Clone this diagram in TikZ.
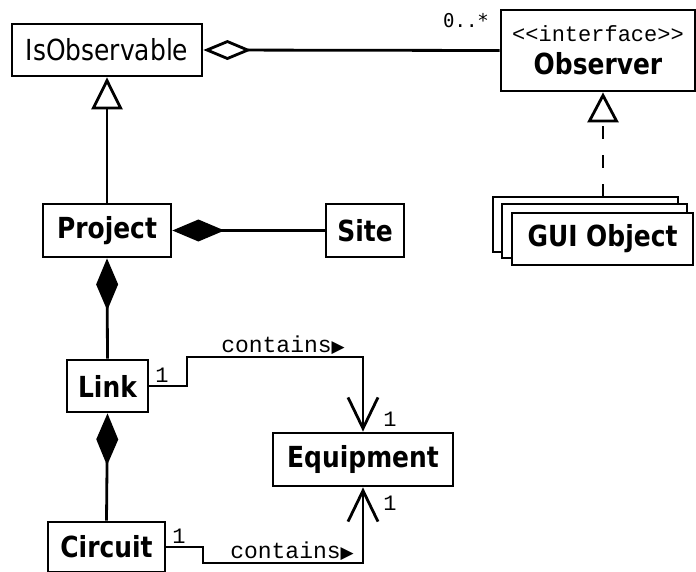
\documentclass[tikz,border=0pt]{standalone}
\usepackage{fontspec}
\setmainfont[FakeStretch=0.86]{DejaVu Sans}
\newfontfamily\monof{Liberation Mono}
\newfontfamily\smonof{DejaVu Sans Mono}
\newfontfamily\symf{DejaVu Sans}
\usetikzlibrary{arrows.meta,calc}
\tikzset{
  cls/.style={draw, line width=2.8pt, fill=white, inner sep=0pt,
    font=\fontsize{29}{32}\selectfont\bfseries},
  conn/.style={line width=2.8pt},
  lbl/.style={font=\monof\fontsize{23}{25}\selectfont, inner sep=0pt},
  mult/.style={font=\monof\fontsize{22}{24}\selectfont, inner sep=0pt},
  aggr/.style={conn, -{Diamond[open, length=48pt, width=20pt]}},
  comp/.style={conn, -{Diamond[length=52pt, width=22pt]}},
  inh/.style={conn, -{Triangle[open, length=32pt, width=31pt]}},
  real/.style={conn, dash pattern=on 13pt off 16pt, -{Triangle[open, length=30pt, width=31pt]}},
  nav/.style={conn, -{Straight Barb[length=31pt, width=30pt]}},
}
\newcommand{\tri}{{\symf\fontsize{17}{17}\selectfont ▶}}
\begin{document}
\begin{tikzpicture}[x=1pt, y=-1pt]
\useasboundingbox (0,0) rectangle (696,572);

% classes
\node[cls, font=\fontsize{29}{32}\selectfont\mdseries, minimum width=190pt, minimum height=52pt] (obsable) at (107,50) {IsObservable};
\node[cls, minimum width=194pt, minimum height=81pt, align=center] (observer) at (598,50.5)
  {{\mdseries\monof\fontsize{22}{24}\selectfont <{}<interface>{}>}\\[1pt]Observer};
\node[cls, minimum width=128pt, minimum height=53pt] (project) at (107,230.5) {Project};
\node[cls, minimum width=78pt, minimum height=53pt] (site) at (365,230.5) {Site};
\node[cls, minimum width=81pt, minimum height=52pt] (link) at (107.5,386) {Link};
\node[cls, minimum width=180pt, minimum height=53pt] (equip) at (363,459.5) {Equipment};
\node[cls, minimum width=117pt, minimum height=50pt] (circuit) at (106.5,547) {Circuit};

% GUI object stack
\node[cls, minimum width=185pt, minimum height=55pt] (guiback) at (585.5,224.5) {};
\node[cls, minimum width=185pt, minimum height=54pt] (guimid) at (594.5,231) {};
\node[cls, minimum width=181pt, minimum height=52pt] (gui) at (602.5,239) {GUI Object};
\coordinate (guitop) at (603,197);

% connectors
\draw[aggr] (observer.west) -- (obsable.east);
\node[inner sep=0pt, font=\smonof\fontsize{19}{21}\selectfont] (m0) at (466,21) {0..*};
\draw[inh] (project.north) -- (obsable.south);
\draw[comp] (site.west) -- (project.east);
\draw[comp] (link.north) -- (project.south);
\draw[comp] (circuit.north) -- (link.south);
\draw[real] (guitop) -- (guitop |- observer.south);

\coordinate (l1) at (187,357);
\draw[nav] (link.east) -| (l1) -| (equip.north);
\node[lbl] (c1lbl) at (283,345) {contains\tri};
\node[mult] (m1) at (162,375) {1};
\node[mult] (m2) at (390,419) {1};

\coordinate (c1) at (203,563);
\draw[nav] (circuit.east) -| (c1) -| (equip.south);
\node[lbl] (c2lbl) at (292,551) {contains\tri};
\node[mult] (m3) at (179,536) {1};
\node[mult] (m4) at (390,503) {1};
\end{tikzpicture}
\end{document}
